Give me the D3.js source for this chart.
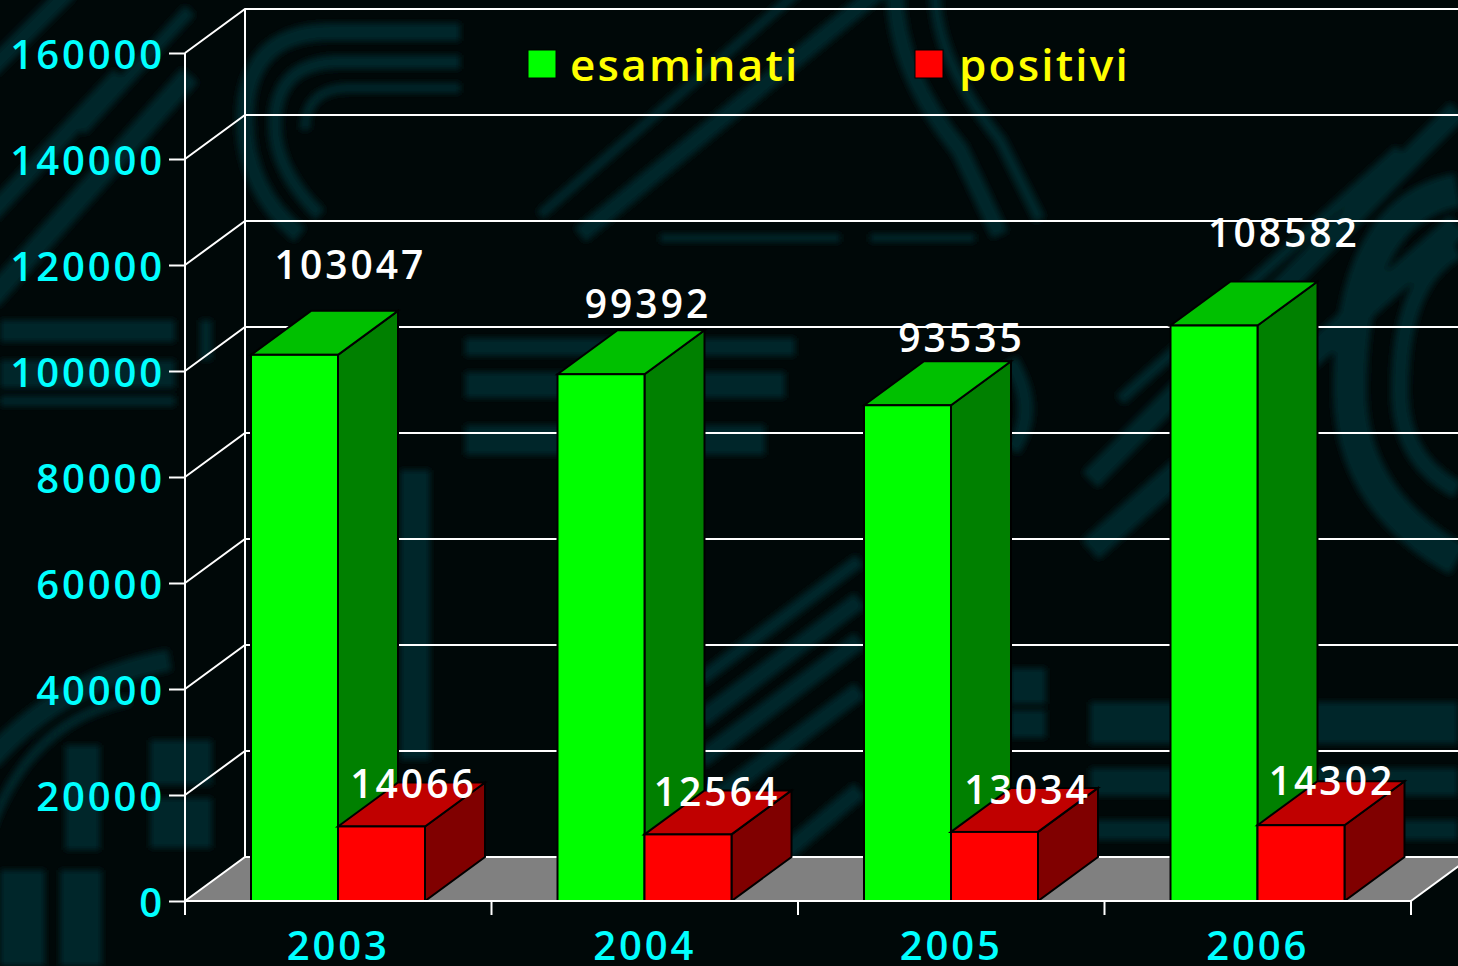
<!DOCTYPE html>
<html>
<head>
<meta charset="utf-8">
<script src="https://cdn.jsdelivr.net/npm/d3@7"></script>
<style>
html, body { margin: 0; padding: 0; background: #000808; overflow: hidden; }
svg { display: block; }
text { font-family: "Open Sans", sans-serif; font-weight: 600; }
</style>
</head>
<body>
<div id="chart"></div>
<script>
const years = ["2003", "2004", "2005", "2006"];
const seriesNames = ["esaminati", "positivi"];
const esaminati = [103047, 99392, 93535, 108582];
const positivi = [14066, 12564, 13034, 14302];
const yTicks = [0, 20000, 40000, 60000, 80000, 100000, 120000, 140000, 160000];

const outerwidth = 1458;
const outerheight = 966;

// 3D offset of the back wall
const depthX = 60;
const depthY = -44;

const plotLeft = 185, plotRight = 1411, plotBottom = 901, plotTop = 53;

const colors = {
	esaminati: { front: "#00ff00", top: "#00c000", side: "#008000" },
	positivi: { front: "#ff0000", top: "#c00000", side: "#800000" }
};

// hand placed labels, they do not sit centered in the original
const labelShift = {
	esaminati: [[56, -76], [47, -56], [54, -53], [70, -79]],
	positivi: [[32, -28], [29, -28], [33, -28], [31, -30]]
};

const xscale = d3.scaleBand().domain(years).range([plotLeft, plotRight]);
const barscale = d3.scaleBand().domain(seriesNames).range([66, 240]);
const yscale = d3.scaleLinear().domain([0, 160000]).range([plotBottom, plotTop]);

const svg = d3.select("#chart").append("svg")
	.attr("width", outerwidth)
	.attr("height", outerheight);

// Background decoration, dark circuit like bands
const defs = svg.append("defs");
defs.append("filter").attr("id", "soft")
	.append("feGaussianBlur").attr("stdDeviation", 3);

svg.append("rect").attr("width", outerwidth).attr("height", outerheight).attr("fill", "#000808");

const bandPaths = [
	["M-10,300 L190,75", 22], ["M-10,215 L120,75", 18], ["M70,-10 L-10,70", 18], ["M190,10 L80,130", 14],
	["M460,32 H330 Q245,32 245,120 Q245,190 300,235", 18],
	["M460,62 H340 Q275,62 275,125 Q275,170 320,215", 14],
	["M460,88 H350 Q305,88 305,130", 10],
	["M580,235 L880,-10", 18], ["M540,215 L800,-10", 10],
	["M895,-10 Q895,70 960,150 L1000,235", 18], ["M935,-10 Q935,60 1000,140 L1040,220", 12],
	["M660,238 H840", 8], ["M870,238 H975", 8],
	["M1090,480 L1458,110", 22], ["M1090,550 L1458,225", 26], ["M1120,400 L1400,150", 12],
	["M1458,190 Q1350,210 1350,390 Q1350,500 1458,560", 34],
	["M1458,250 Q1400,280 1400,390 Q1400,460 1458,490", 18],
	["M1010,360 Q1040,410 1012,450", 16],
	["M700,760 L860,640", 18], ["M700,720 L860,600", 18], ["M700,680 L860,560", 14], ["M700,810 L860,690", 18], ["M740,890 L860,790", 18],
	["M-10,760 Q60,680 170,660", 22], ["M-10,830 Q30,720 130,700", 10]
];
const bandRects = [
	[0, 320, 175, 22], [0, 360, 175, 28], [0, 396, 175, 10], [200, 320, 12, 40],
	[465, 338, 330, 18], [465, 372, 320, 26], [465, 425, 300, 30],
	[400, 470, 30, 290], [150, 740, 62, 45], [150, 798, 62, 50],
	[65, 745, 35, 105], [0, 870, 45, 96], [60, 870, 42, 96],
	[1090, 702, 368, 42], [1090, 768, 368, 28], [1010, 668, 36, 36], [1010, 710, 36, 28],
	[1090, 820, 368, 20]
];

const bg = svg.append("g").attr("filter", "url(#soft)");
bg.selectAll("path").data(bandPaths).join("path")
	.attr("d", d => d[0])
	.attr("fill", "none")
	.attr("stroke", "#03282a")
	.attr("stroke-width", d => d[1]);
bg.selectAll("rect").data(bandRects).join("rect")
	.attr("x", d => d[0]).attr("y", d => d[1])
	.attr("width", d => d[2]).attr("height", d => d[3])
	.attr("fill", "#03282a");

// Floor
const floorRight = plotRight + depthX;
svg.append("polygon")
	.attr("points", [[plotLeft, plotBottom], [plotLeft + depthX, plotBottom + depthY], [floorRight, plotBottom + depthY], [plotRight, plotBottom]].join(" "))
	.attr("fill", "#808080");

// Grid on the side and back wall
const grid = svg.append("g").attr("fill", "none").attr("stroke", "#ffffff").attr("stroke-width", 2);
grid.selectAll("path").data(yTicks).join("path")
	.attr("d", d => "M" + plotLeft + "," + yscale(d) + "L" + (plotLeft + depthX) + "," + (yscale(d) + depthY) + "H" + floorRight);
grid.append("line")
	.attr("x1", plotLeft + depthX).attr("x2", plotLeft + depthX)
	.attr("y1", plotTop + depthY).attr("y2", plotBottom + depthY);
grid.append("path").attr("d", "M" + plotRight + "," + plotBottom + "L" + floorRight + "," + (plotBottom + depthY));

// Bars
function drawBars(name, values) {
	const c = colors[name];
	const g = svg.append("g").attr("stroke", "#000000").attr("stroke-width", 2).attr("stroke-linejoin", "miter");
	const bw = barscale.bandwidth();
	const bx = (d, i) => xscale(years[i]) + barscale(name);

	g.selectAll(".side").data(values).join("polygon").attr("class", "side")
		.attr("fill", c.side)
		.attr("points", (d, i) => {
			const x = bx(d, i) + bw, y = yscale(d);
			return [[x, y], [x + depthX, y + depthY], [x + depthX, plotBottom + depthY], [x, plotBottom]].join(" ");
		});
	g.selectAll(".top").data(values).join("polygon").attr("class", "top")
		.attr("fill", c.top)
		.attr("points", (d, i) => {
			const x = bx(d, i), y = yscale(d);
			return [[x, y], [x + depthX, y + depthY], [x + bw + depthX, y + depthY], [x + bw, y]].join(" ");
		});
	g.selectAll(".front").data(values).join("rect").attr("class", "front")
		.attr("fill", c.front)
		.attr("x", bx)
		.attr("y", d => yscale(d))
		.attr("width", bw)
		.attr("height", d => plotBottom - yscale(d));
}
drawBars("esaminati", esaminati);
drawBars("positivi", positivi);

// Axes
const yaxis = d3.axisLeft(yscale).tickValues(yTicks).tickFormat(d3.format("d")).tickSize(16).tickPadding(4);
const yg = svg.append("g").attr("transform", "translate(" + plotLeft + ",0)").call(yaxis);
yg.select(".domain").attr("stroke", "#fff").attr("stroke-width", 2).attr("d", "M0," + plotTop + "V" + (plotBottom + 14));
yg.selectAll(".tick line").attr("stroke", "#fff").attr("stroke-width", 2);
yg.selectAll(".tick text").attr("fill", "#00ffff").attr("font-size", 40)
	.attr("letter-spacing", 2.9).attr("dy", "0.39em");
yg.attr("font-family", null);

const xaxis = d3.axisBottom(xscale).tickSize(0).tickPadding(31);
const xg = svg.append("g").attr("transform", "translate(0," + plotBottom + ")").call(xaxis);
xg.select(".domain").attr("stroke", "#fff").attr("stroke-width", 2).attr("d", "M" + plotLeft + ",0H" + plotRight);
xg.selectAll(".tick text").attr("fill", "#00ffff").attr("font-size", 40)
	.attr("letter-spacing", 2.9);
xg.attr("font-family", null);
// ticks sit between the categories, not on them
const edges = years.map(d => xscale(d)).concat([plotRight]);
xg.selectAll(".edge").data(edges).join("line").attr("class", "edge")
	.attr("x1", d => d).attr("x2", d => d).attr("y1", 0).attr("y2", 14)
	.attr("stroke", "#fff").attr("stroke-width", 2);

// Value labels
function drawLabels(name, values) {
	const bw = barscale.bandwidth();
	svg.append("g").selectAll("text").data(values).join("text")
		.attr("x", (d, i) => xscale(years[i]) + barscale(name) + bw / 2 + labelShift[name][i][0])
		.attr("y", (d, i) => yscale(d) + labelShift[name][i][1])
		.attr("text-anchor", "middle")
		.attr("fill", "#ffffff")
		.attr("font-size", 39)
		.attr("letter-spacing", 3)
		.text(d => d);
}
drawLabels("esaminati", esaminati);
drawLabels("positivi", positivi);

// Legend
const legendX = [528, 915];
const legend = svg.append("g").selectAll("g").data(seriesNames).join("g")
	.attr("transform", (d, i) => "translate(" + legendX[i] + ",50)");
legend.append("rect")
	.attr("width", 28).attr("height", 28)
	.attr("stroke", "#000").attr("stroke-width", 1)
	.attr("fill", d => colors[d].front);
legend.append("text")
	.attr("x", (d, i) => i == 0 ? 42 : 44)
	.attr("y", 31)
	.attr("fill", "#ffff00")
	.attr("font-size", 44)
	.attr("font-weight", 500)
	.attr("letter-spacing", 2.2)
	.text(d => d);
</script>
</body>
</html>
